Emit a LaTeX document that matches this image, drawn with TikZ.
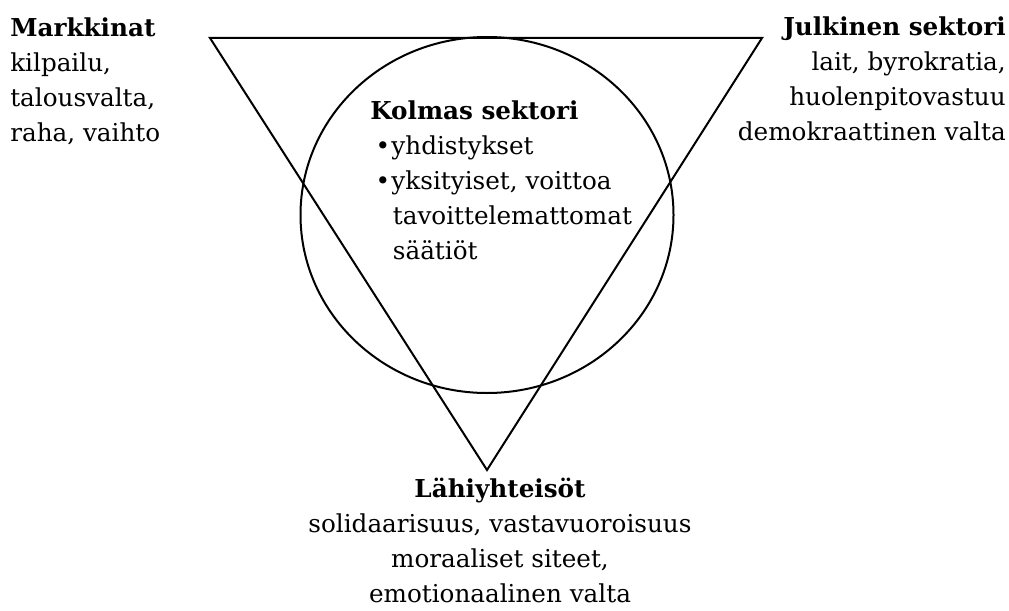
\documentclass[tikz,border=0pt]{standalone}
\usepackage{fontspec}
\setmainfont{DejaVu Serif}
\usetikzlibrary{positioning}
\begin{document}
\begin{tikzpicture}[x=0.75pt,y=-0.75pt,
    viiva/.style={line width=1.5pt},
    teksti/.style={font=\fontsize{18.5}{26.3}\selectfont, inner sep=0pt}]
    \useasboundingbox (0,0) rectangle (1009,610);

    % Kolmio
    \coordinate (vasen) at (210,38);
    \coordinate (oikea) at (762,38);
    \coordinate (ala) at (487,470);
    \draw[viiva, line join=miter] (vasen) -- (oikea) -- (ala) -- cycle;

    % Ympyra
    \draw[viiva] (487,215) ellipse [x radius=186.5, y radius=178];

    % Kulmien tekstit
    \node[teksti, align=left, anchor=north west] (markkinat) at (10,17)
        {\textbf{Markkinat}\\kilpailu,\\talousvalta,\\raha, vaihto};
    \node[teksti, align=right, anchor=north east] (julkinen) at (1006,16)
        {\textbf{Julkinen sektori}\\lait, byrokratia,\\huolenpitovastuu\\demokraattinen valta};
    \node[teksti, align=center, anchor=north] (lahi) at (500,478)
        {\textbf{Lähiyhteisöt}\\solidaarisuus, vastavuoroisuus\\moraaliset siteet,\\emotionaalinen valta};

    % Keskella
    \node[teksti, align=left, anchor=north west] (kolmas) at (370,100)
        {\textbf{Kolmas sektori}\\
         \hspace{4pt}•\hspace{1pt}yhdistykset\\
         \hspace{4pt}•\hspace{1pt}yksityiset, voittoa\\
         \hspace{17pt}tavoittelemattomat\\
         \hspace{17pt}säätiöt};
\end{tikzpicture}
\end{document}
